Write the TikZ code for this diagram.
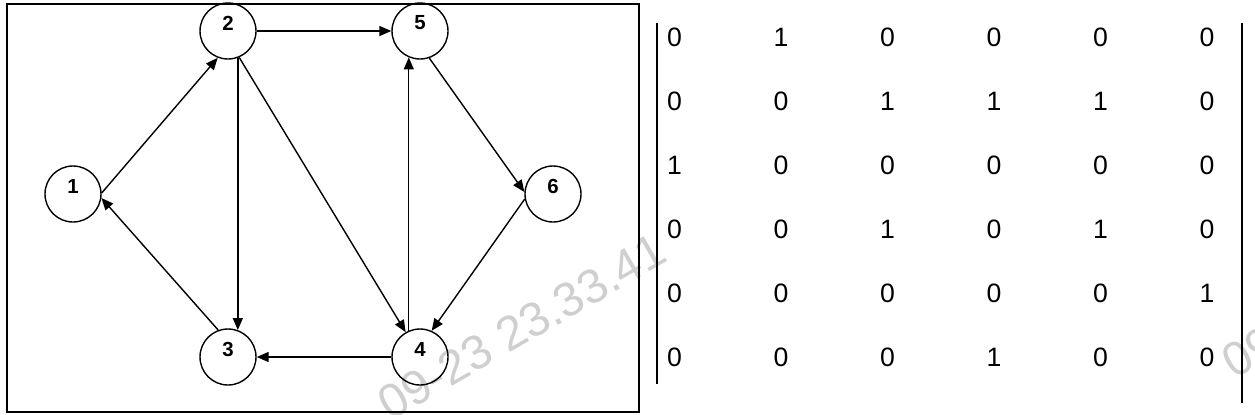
\documentclass[tikz,border=0pt]{standalone}
\usepackage{fontspec}
\setmainfont{Liberation Sans}
\usetikzlibrary{arrows.meta}
\newcommand{\vlabfont}{\fontsize{10.2}{12}\selectfont\bfseries}
\begin{document}
\begin{tikzpicture}[x=0.5pt,y=-0.5pt,
  vtx/.style={draw, circle, line width=0.7pt, minimum size=28pt, inner sep=0pt,
    label={[font=\vlabfont, yshift=4pt, inner sep=0pt]center:#1}},
  edge/.style={line width=0.7pt, -{Triangle[length=6pt,width=5pt]}},
  cell/.style={font=\fontsize{13.3}{15}\selectfont, inner sep=0pt},
  wm/.style={text=black!19, font=\fontsize{24}{28}\selectfont, rotate=30, inner sep=0pt, anchor=base west}]
\useasboundingbox (0,0) rectangle (1255,414);
\clip (0,0) rectangle (1255,414);
% watermark
\node[wm] (wmA) at (390,422) {09-23 23.33.41};
\node[wm] (wmB) at (1234,380) {09-23 23.33.41};
% frame
\draw[line width=0.9pt] (7,4) rectangle (639,412);
% vertices
\node[vtx=1] (n1) at (73,194) {};
\node[vtx=2] (n2) at (228,31) {};
\node[vtx=3] (n3) at (228,357) {};
\node[vtx=4] (n4) at (420,357) {};
\node[vtx=5] (n5) at (420,31) {};
\node[vtx=6] (n6) at (553,194) {};
% edges
\draw[edge] (n1.2) -- (n2.249);
\draw[edge] (n3.110) -- (n1.-8);
\draw[edge] (n2.east) -- (n5.west);
\draw[edge] (n2.290) -- (n3.70);
\draw[edge] (n2.293) -- (n4.120);
\draw[edge] (n4.113) -- (n5.247);
\draw[edge] (n5.289) -- (n6.176);
\draw[edge] (n6.190) -- (n4.66);
\draw[edge] (n4.west) -- (n3.east);
% matrix
\foreach \row [count=\r] in {{0,1,0,0,0,0},{0,0,1,1,1,0},{1,0,0,0,0,0},{0,0,1,0,1,0},{0,0,0,0,0,1},{0,0,0,1,0,0}}{
  \foreach \v [count=\c] in \row {
    \node[cell] (m\r\c) at ({674.5+106.5*(\c-1)},{37.5+63.9*(\r-1)}) {\v};
  }
}
\draw[line width=0.55pt] (657,23) -- (657,384);
\draw[line width=0.55pt] (1242,23) -- (1242,403);
\end{tikzpicture}
\end{document}
